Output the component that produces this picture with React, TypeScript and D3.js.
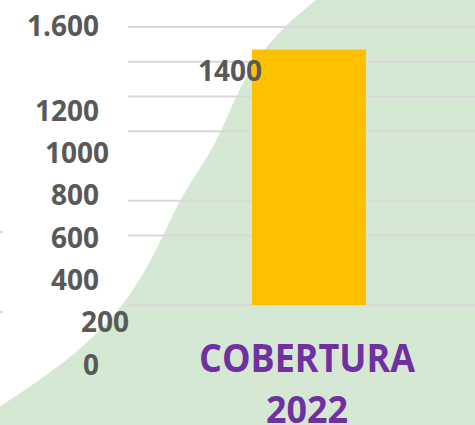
import React from "react";
import * as d3 from "d3";

const categories = ["COBERTURA 2022"];
const values = [1470];
const barLabels = ["1400"];
const tickValues = [0, 200, 400, 600, 800, 1000, 1200, 1600];
const tickLabels = ["0", "200", "400", "600", "800", "1000", "1200", "1.600"];
const gridValues = [0, 400, 600, 1000, 1200, 1400, 1600];
// decorative backdrop outline (pixel space)
const backdropOutline: [number, number][] = [
  [330, -12], [316, 0], [283, 27], [257, 58], [236, 95], [222, 130], [207, 158],
  [188, 186], [174, 212], [162, 238], [147, 268], [127, 300], [96, 336],
  [52, 372], [0, 407], [-20, 418],
];
const tickNudge: Record<string, number> = { "1000": 10, "200": 30 };

const W = 475;
const H = 425;

export default function App() {
  const y = d3.scaleLinear().domain([0, 1600]).range([305, 27]);
  const yLabel = d3.scaleLinear().domain([0, 1200]).range([364.5, 110.5]);
  const x = d3.scaleBand().domain(categories).range([195, 423]).paddingInner(0).paddingOuter(0.5);

  const boundary = d3.line().curve(d3.curveBasis)(backdropOutline) || "";
  const backdrop = boundary + `L${-20},${H + 5}L${W + 5},${H + 5}L${W + 5},-12Z`;

  const font = "'Open Sans', 'Liberation Sans', sans-serif";
  const cx = (x(categories[0]) || 0) + x.bandwidth() / 2;

  return (
    <svg width={W} height={H} style={{ position: "absolute", left: 0, top: 0, background: "#fff" }}>
      <path d={backdrop} fill="#d5e8d4" />
      <line x1={0} x2={3} y1={232} y2={232} stroke="#d9d9d9" strokeWidth={2} />
      <line x1={0} x2={3} y1={312} y2={312} stroke="#d9d9d9" strokeWidth={2} />
      {gridValues.map((v) => (
        <line key={v} x1={128} x2={W} y1={y(v)} y2={y(v)} stroke="#d9d9d9" strokeWidth={2} />
      ))}
      {categories.map((c, i) => (
        <rect key={c} x={x(c)} y={y(values[i])} width={x.bandwidth()} height={y(0) - y(values[i])} fill="#ffc000" />
      ))}
      {tickValues.map((v, i) => (
        <text
          key={v}
          x={99 + (tickNudge[tickLabels[i]] || 0)}
          y={yLabel(v)}
          dy="0.36em"
          textAnchor="end"
          fontFamily={font}
          fontWeight={700}
          fontSize={28}
          fill="#595959"
        >
          {tickLabels[i]}
        </text>
      ))}
      {barLabels.map((l, i) => (
        <text key={l} x={230} y={y(values[i]) + 21} dy="0.36em" textAnchor="middle" fontFamily={font} fontWeight={700} fontSize={28} fill="#595959">
          {l}
        </text>
      ))}
      <text x={cx - 2} y={372} textAnchor="middle" fontFamily={font} fontWeight={700} fontSize={39} textLength={216} lengthAdjust="spacingAndGlyphs" fill="#7030a0">
        COBERTURA
      </text>
      <text x={cx - 2} y={423} textAnchor="middle" fontFamily={font} fontWeight={700} fontSize={38} textLength={82} lengthAdjust="spacingAndGlyphs" fill="#7030a0">
        2022
      </text>
    </svg>
  );
}
